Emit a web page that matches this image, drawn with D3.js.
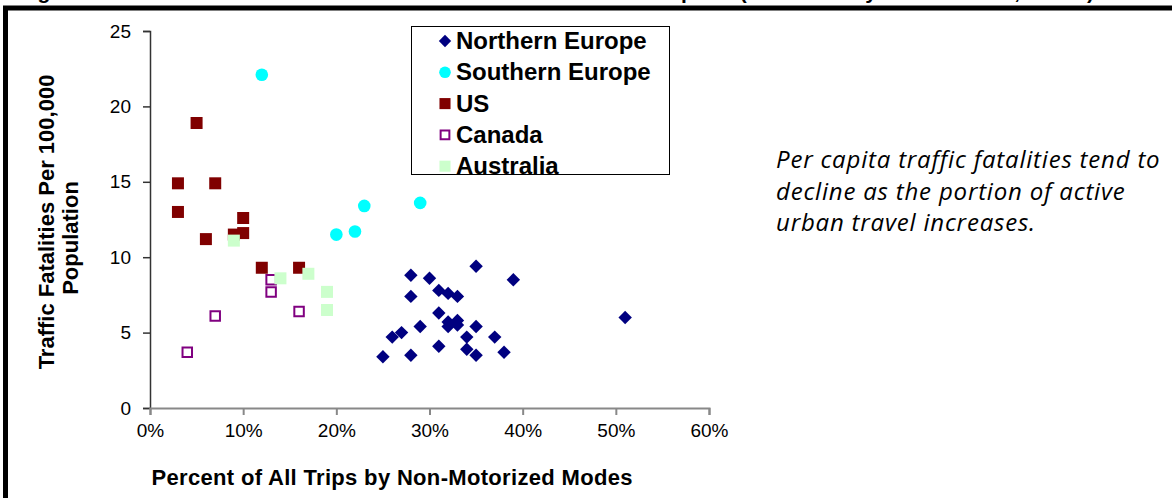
<!DOCTYPE html>
<html lang="en">

<head>
  <meta charset="utf-8">
  <title>Traffic Fatalities vs Non-Motorized Modes</title>
  <script src="https://cdn.jsdelivr.net/npm/d3@7"></script>
  <style>
    body {
      margin: 0;
      background: white;
    }

    .axis text {
      font: 19px "Liberation Sans", Arial, sans-serif;
      fill: black;
    }

    .title {
      font: bold 22px "Liberation Sans", Arial, sans-serif;
      fill: black;
    }

    .legend text {
      font: bold 24px "Liberation Sans", Arial, sans-serif;
      fill: black;
    }

    .note {
      font: italic 24px "Open Sans", Lato, sans-serif;
      letter-spacing: 0.8px;
      fill: black;
    }
  </style>
</head>

<body>
  <div id="chart"></div>

  <script>
    // percent of trips by non-motorized modes (x), fatalities per 100,000 (y)
    var northX = [25, 26, 27, 28, 28, 28, 29, 30, 31, 31, 31, 32, 32, 32, 33, 33, 33, 34, 34, 35, 35, 35, 37, 38, 39, 51];
    var northY = [3.4, 4.7, 5.0, 3.5, 7.4, 8.8, 5.4, 8.6, 7.8, 6.3, 4.1, 7.6, 5.7, 5.4, 7.4, 5.8, 5.5, 4.7, 3.9, 9.4, 5.4, 3.5, 4.7, 3.7, 8.5, 6.0];
    var southX = [12, 20, 22, 23, 29];
    var southY = [22.1, 11.5, 11.7, 13.4, 13.6];
    var usX = [3, 3, 5, 6, 7, 9, 10, 10, 12, 16];
    var usY = [14.9, 13.0, 18.9, 11.2, 14.9, 11.5, 12.6, 11.6, 9.3, 9.3];
    var canadaX = [4, 7, 13, 13, 16];
    var canadaY = [3.7, 6.1, 8.5, 7.7, 6.4];
    var australiaX = [9, 14, 17, 19, 19];
    var australiaY = [11.1, 8.6, 8.9, 7.7, 6.5];

    var seriesNames = ['Northern Europe', 'Southern Europe', 'US', 'Canada', 'Australia'];
    var xTicks = [0, 10, 20, 30, 40, 50, 60];
    var yTicks = [0, 5, 10, 15, 20, 25];

    var W = 1172, H = 498;
    var margin = { left: 150, top: 31, right: 463, bottom: 90 };
    var width = W - margin.left - margin.right,
      height = H - margin.top - margin.bottom;

    // diamonds are squares turned 45 degrees
    var styles = [
      { shape: d3.symbolSquare, size: 90, rot: 45, fill: '#000080', stroke: 'none' },
      { shape: d3.symbolCircle, size: 125, rot: 0, fill: '#00ffff', stroke: 'none' },
      { shape: d3.symbolSquare, size: 144, rot: 0, fill: '#800000', stroke: 'none' },
      { shape: d3.symbolSquare, size: 90, rot: 0, fill: 'white', stroke: '#800080' },
      { shape: d3.symbolSquare, size: 144, rot: 0, fill: '#ccffcc', stroke: 'none' }
    ];

    var series = [
      d3.zip(northX, northY),
      d3.zip(southX, southY),
      d3.zip(usX, usY),
      d3.zip(canadaX, canadaY),
      d3.zip(australiaX, australiaY)
    ];

    var xS = d3.scaleLinear().domain([0, 60]).range([0, width]);
    var yS = d3.scaleLinear().domain([0, 25]).range([height, 0]);

    var svg = d3.select('#chart')
      .append('svg')
      .attr('width', W)
      .attr('height', H)
      .style('display', 'block');

    // title, cut off at the top of the picture
    svg.append('text')
      .attr('x', 14)
      .attr('y', -1.5)
      .attr('textLength', 1080)
      .style('font', 'bold 21px "Liberation Sans", Arial, sans-serif')
      .text('Figure 6  Traffic Fatalities Versus Non-Motorized Transport (Kenworthy and Laube, 2000)');

    // outer frame
    svg.append('path')
      .attr('d', 'M5.5,498V8H1172')
      .attr('fill', 'none')
      .attr('stroke', 'black')
      .attr('stroke-width', 5);

    var graph = svg.append('g')
      .attr('transform', 'translate(' + margin.left + ',' + margin.top + ')');

    var yAxis = graph.append('g')
      .attr('class', 'axis')
      .call(d3.axisLeft(yS).tickValues(yTicks).tickSize(7).tickPadding(12));
    yAxis.selectAll('line, path').attr('stroke', '#333').attr('stroke-width', 1.5);

    var xAxis = graph.append('g')
      .attr('class', 'axis')
      .attr('transform', 'translate(0,' + height + ')')
      .call(d3.axisBottom(xS).tickValues(xTicks).tickSize(7).tickPadding(9)
        .tickFormat(d => d + '%'));
    xAxis.selectAll('line, path').attr('stroke', '#888').attr('stroke-width', 2);

    // axis titles
    svg.append('text')
      .attr('class', 'title')
      .attr('x', 392)
      .attr('y', 485)
      .attr('text-anchor', 'middle')
      .attr('textLength', 481)
      .text('Percent of All Trips by Non-Motorized Modes');

    svg.append('text')
      .attr('class', 'title')
      .attr('transform', 'translate(54,222) rotate(-90)')
      .attr('text-anchor', 'middle')
      .text('Traffic Fatalities Per 100,000');

    svg.append('text')
      .attr('class', 'title')
      .attr('transform', 'translate(78,238) rotate(-90)')
      .attr('text-anchor', 'middle')
      .text('Population');

    // points
    series.forEach(function (pts, i) {
      var st = styles[i];
      graph.append('g')
        .selectAll('path')
        .data(pts)
        .enter()
        .append('path')
        .attr('d', d3.symbol().type(st.shape).size(st.size))
        .attr('transform', d => 'translate(' + xS(d[0]) + ',' + yS(d[1]) + ') rotate(' + st.rot + ')')
        .attr('fill', st.fill)
        .attr('stroke', st.stroke)
        .attr('stroke-width', 2);
    });

    // legend
    var legend = svg.append('g')
      .attr('class', 'legend')
      .attr('transform', 'translate(411,26)');

    legend.append('rect')
      .attr('x', 0.5)
      .attr('y', 0.5)
      .attr('width', 258)
      .attr('height', 148)
      .attr('fill', 'white')
      .attr('stroke', 'black');

    var rows = legend.selectAll('g.row')
      .data(seriesNames)
      .enter()
      .append('g')
      .attr('class', 'row')
      .attr('transform', (d, i) => 'translate(0,' + (15 + i * 31.3) + ')');

    rows.append('path')
      .attr('transform', (d, i) => 'translate(34,0) rotate(' + styles[i].rot + ')')
      .attr('d', (d, i) => d3.symbol().type(styles[i].shape).size(styles[i].size * 0.85)())
      .attr('fill', (d, i) => styles[i].fill)
      .attr('stroke', (d, i) => styles[i].stroke)
      .attr('stroke-width', 2);

    rows.append('text')
      .attr('x', 45)
      .attr('y', 8)
      .text(d => d);

    // note on the right
    var noteLines = ['Per capita traffic fatalities tend to',
      'decline as the portion of active',
      'urban travel increases.'];
    svg.append('g')
      .selectAll('text')
      .data(noteLines)
      .enter()
      .append('text')
      .attr('class', 'note')
      .attr('x', 776)
      .attr('y', (d, i) => 168 + i * 31.5)
      .text(d => d);
  </script>
</body>

</html>
